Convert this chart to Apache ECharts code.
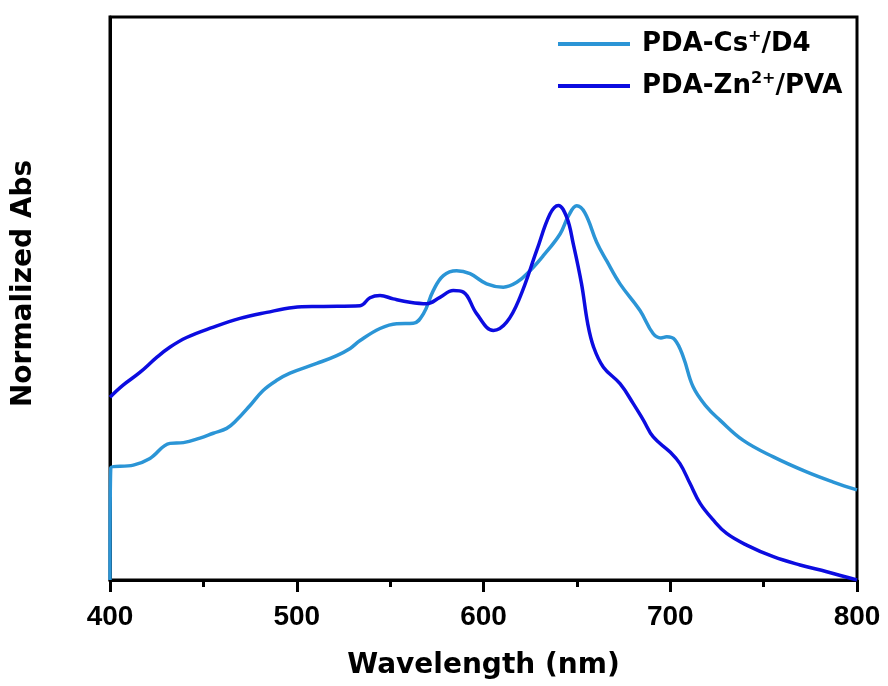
<!DOCTYPE html>
<html>
<head>
<meta charset="utf-8">
<script src="https://cdn.jsdelivr.net/npm/echarts@6/dist/echarts.min.js"></script>
<style>html,body{margin:0;padding:0;background:#fff}#c{width:888px;height:686px}</style>
</head>
<body>
<div id="c"></div>
<script>
var seriesNames = ['PDA-Cs+/D4', 'PDA-Zn2+/PVA'];
var xTicks = [400, 500, 600, 700, 800];

var wlCs = [400, 400.4, 412.5, 421.4, 432.1, 439.3, 448.2, 455.3, 462.5, 467.8, 475, 482, 489.3, 496.4, 510.7, 521.4, 528.6, 533.9, 544.6, 553.5, 562.4, 567.8, 573.1, 578.5, 585.6, 592.8, 601.7, 610.6, 617.8, 624.9, 632, 641, 645.5, 649.9, 654.3, 660.6, 666, 673.1, 683.8, 690.9, 695, 698.1, 702.5, 707, 712.3, 719.5, 726.6, 739.1, 755.2, 773, 787.3, 800];
var absCs = [0, 0.298, 0.306, 0.324, 0.364, 0.366, 0.378, 0.391, 0.404, 0.426, 0.465, 0.505, 0.532, 0.551, 0.577, 0.598, 0.617, 0.638, 0.670, 0.683, 0.684, 0.709, 0.771, 0.811, 0.824, 0.816, 0.789, 0.780, 0.793, 0.824, 0.864, 0.922, 0.970, 0.997, 0.978, 0.900, 0.850, 0.789, 0.718, 0.656, 0.645, 0.648, 0.640, 0.594, 0.514, 0.461, 0.426, 0.372, 0.328, 0.288, 0.261, 0.240];

var wlZn = [400, 407, 416, 425, 432, 441, 455, 469.6, 483.9, 498.2, 512.4, 533.9, 539.2, 544.6, 551.7, 560.6, 569.6, 576.7, 583.8, 589.2, 596.4, 605.3, 612.4, 619.5, 628.5, 635.6, 640.1, 644.6, 648.1, 652.5, 655.8, 659, 664.2, 673.1, 680.2, 685.6, 690.9, 699.9, 705.2, 710.6, 716, 723, 730.2, 740.9, 755.2, 769.5, 783.8, 800];
var absZn = [0.487, 0.519, 0.553, 0.593, 0.620, 0.646, 0.673, 0.697, 0.713, 0.726, 0.729, 0.731, 0.752, 0.758, 0.749, 0.740, 0.736, 0.753, 0.771, 0.767, 0.709, 0.665, 0.687, 0.753, 0.878, 0.975, 0.998, 0.966, 0.895, 0.789, 0.683, 0.620, 0.567, 0.523, 0.470, 0.426, 0.381, 0.341, 0.310, 0.257, 0.204, 0.160, 0.124, 0.093, 0.062, 0.040, 0.022, 0];

function pairs(xs, ys) { return xs.map(function (x, i) { return [x, ys[i]]; }); }

var chart = echarts.init(document.getElementById('c'), null, {renderer: 'canvas'});
var titleFont = 'DejaVu Sans';
var legendRich = {
  b0: {fontFamily: titleFont, fontWeight: 'bold', fontSize: 26, color: '#000', lineHeight: 30, padding: [0, 0, 0, 7]},
  b: {fontFamily: titleFont, fontWeight: 'bold', fontSize: 26, color: '#000', lineHeight: 30},
  s: {fontFamily: titleFont, fontWeight: 'bold', fontSize: 16, color: '#000', lineHeight: 16, verticalAlign: 'top'}
};
chart.setOption({
  animation: false,
  backgroundColor: '#fff',
  grid: {left: 110, right: 31, top: 17, bottom: 106, show: true, borderColor: '#000', borderWidth: 3, backgroundColor: 'transparent'},
  legend: {
    orient: 'vertical', left: 558, top: 29, padding: 0, itemWidth: 72, itemHeight: 4, itemGap: 14,
    icon: 'rect',
    data: seriesNames,
    formatter: function (n) {
      if (n === seriesNames[0]) return '{b0|PDA-Cs}{s|+}{b|/D4}';
      return '{b0|PDA-Zn}{s|2+}{b|/PVA}';
    },
    textStyle: {rich: legendRich}
  },
  xAxis: {
    type: 'value', min: 400, max: 800, interval: 100,
    name: 'Wavelength (nm)', nameLocation: 'middle', nameGap: 72,
    nameTextStyle: {fontFamily: titleFont, fontWeight: 'bold', fontSize: 28, color: '#000'},
    axisLine: {show: true, lineStyle: {color: '#000', width: 3}},
    axisTick: {show: true, inside: false, length: 12, lineStyle: {color: '#000', width: 3}},
    minorTick: {show: true, splitNumber: 2, length: 7, lineStyle: {color: '#000', width: 3}},
    axisLabel: {margin: 23, fontFamily: 'Liberation Sans', fontWeight: 'bold', fontSize: 28, color: '#000',
      formatter: function (v) { return xTicks.indexOf(v) >= 0 ? String(v) : ''; }},
    splitLine: {show: false}
  },
  yAxis: {
    type: 'value', min: 0, max: 1.5,
    name: 'Normalized Abs', nameLocation: 'middle', nameGap: 72,
    nameTextStyle: {fontFamily: titleFont, fontWeight: 'bold', fontSize: 28, color: '#000', padding: [0, 0, 0, 30]},
    axisLine: {show: true, lineStyle: {color: '#000', width: 3}},
    axisTick: {show: false}, axisLabel: {show: false}, splitLine: {show: false}
  },
  series: [
    {name: seriesNames[0], type: 'line', data: pairs(wlCs, absCs), showSymbol: false, symbol: 'none', smooth: 0.4,
      lineStyle: {color: '#2B95D6', width: 3.5}, itemStyle: {color: '#2B95D6'}, z: 3},
    {name: seriesNames[1], type: 'line', data: pairs(wlZn, absZn), showSymbol: false, symbol: 'none', smooth: 0.4,
      lineStyle: {color: '#0C0CE0', width: 3.5}, itemStyle: {color: '#0C0CE0'}, z: 4}
  ]
});
</script>
</body>
</html>
